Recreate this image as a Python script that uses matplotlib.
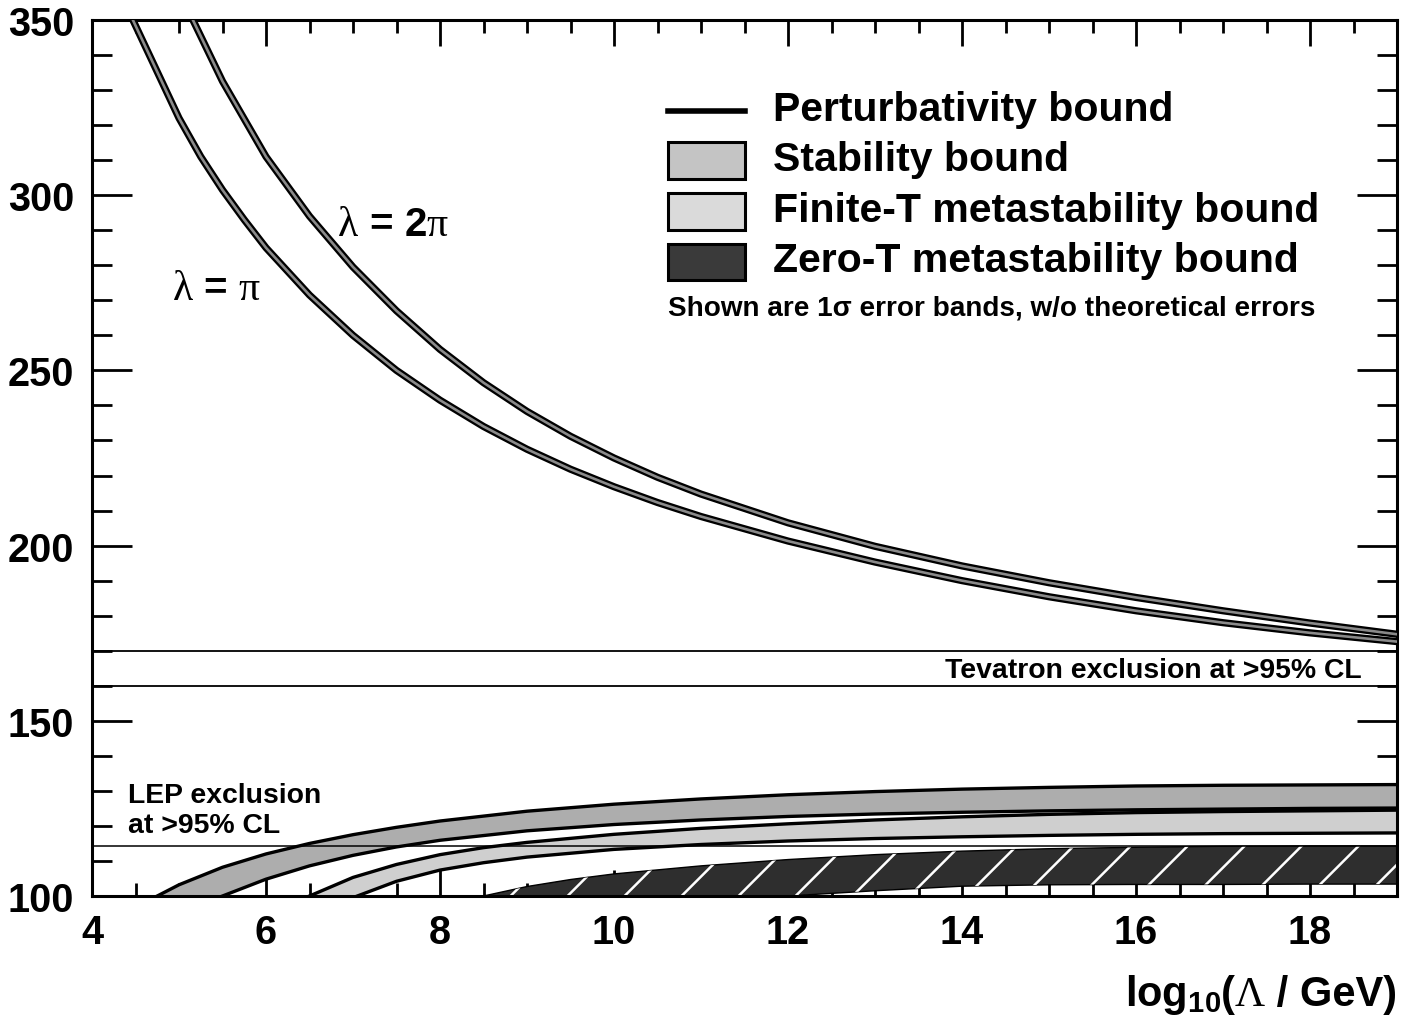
import numpy as np
import matplotlib
matplotlib.use('Agg')
import matplotlib.pyplot as plt
import matplotlib.patheffects as pe
from matplotlib.ticker import MultipleLocator
from matplotlib.offsetbox import TextArea, HPacker, AnnotationBbox
from matplotlib.patches import Rectangle
from matplotlib.lines import Line2D

plt.rcParams['font.family'] = ['Liberation Sans', 'DejaVu Sans']
plt.rcParams['mathtext.fontset'] = 'custom'
plt.rcParams['mathtext.rm'] = 'Liberation Sans:bold'
plt.rcParams['mathtext.bf'] = 'Liberation Sans:bold'
plt.rcParams['mathtext.it'] = 'Liberation Sans:bold'

# ---------------- data ----------------
x_ticks = [4, 6, 8, 10, 12, 14, 16, 18]
x_ticklabels = ['4', '6', '8', '10', '12', '14', '16', '18']
y_ticks = [100, 150, 200, 250, 300, 350]
y_ticklabels = ['100', '150', '200', '250', '300', '350']

# perturbativity bounds (Higgs mass, GeV) vs log10(Lambda/GeV)
pi_x = [4.47, 5.0, 5.25, 5.5, 5.75, 6.0, 6.5, 7.0, 7.5, 8.0, 8.5, 9.0, 9.5, 10.0,
        10.5, 11.0, 12.0, 13.0, 14.0, 15.0, 16.0, 17.0, 18.0, 19.0]
pi_m = [350, 322, 311, 301.5, 293, 285, 271.5, 260, 250, 241.5, 234, 227.5, 221.8, 216.8,
        212.3, 208.3, 201.3, 195.3, 190.0, 185.4, 181.4, 178.0, 175.1, 172.6]
twopi_x = [5.16, 5.5, 6.0, 6.5, 7.0, 7.5, 8.0, 8.5, 9.0, 9.5, 10.0, 10.5, 11.0,
           12.0, 13.0, 14.0, 15.0, 16.0, 17.0, 18.0, 19.0]
twopi_m = [350, 332.5, 311, 294, 279.5, 267, 256, 246.5, 238.3, 231.2, 225, 219.5, 214.7,
           206.5, 199.8, 194.2, 189.4, 185.2, 181.4, 177.9, 174.7]

# stability bound (1 sigma band)
stab_hi_x = [4.75, 5.0, 5.5, 6.0, 6.5, 7.0, 7.5, 8.0, 9.0, 10.0, 11.0, 12.0, 13.0, 14.0,
             15.0, 16.0, 17.0, 18.0, 19.0]
stab_hi = [100, 103.2, 108.2, 112.0, 115.0, 117.5, 119.6, 121.4, 124.2, 126.2, 127.7, 128.9,
           129.8, 130.5, 131.0, 131.4, 131.6, 131.7, 131.8]
stab_lo_x = [5.5, 6.0, 6.5, 7.0, 7.5, 8.0, 9.0, 10.0, 11.0, 12.0, 13.0, 14.0, 15.0, 16.0,
             17.0, 18.0, 19.0]
stab_lo = [100, 104.8, 108.6, 111.6, 114.0, 115.9, 118.6, 120.4, 121.7, 122.7, 123.4, 123.9,
           124.3, 124.6, 124.8, 125.0, 125.1]

# finite-T metastability bound
fin_hi_x = [6.5, 7.0, 7.5, 8.0, 8.5, 9.0, 10.0, 11.0, 12.0, 13.0, 14.0, 15.0, 16.0, 17.0, 18.0, 19.0]
fin_hi = [100, 105.3, 109.0, 111.8, 113.8, 115.3, 117.6, 119.3, 120.6, 121.7, 122.6, 123.3,
          123.8, 124.1, 124.3, 124.5]
fin_lo_x = [7.05, 7.5, 8.0, 8.5, 9.0, 10.0, 11.0, 12.0, 13.0, 14.0, 15.0, 16.0, 17.0, 18.0, 19.0]
fin_lo = [100, 104.2, 107.4, 109.5, 111.1, 113.3, 114.7, 115.7, 116.4, 116.9, 117.3, 117.6,
          117.8, 117.9, 118.0]

# zero-T metastability bound
zero_hi_x = [8.5, 9.0, 9.5, 10.0, 11.0, 12.0, 13.0, 14.0, 15.0, 16.0, 17.0, 18.0, 19.0]
zero_hi = [100, 102.7, 104.7, 106.3, 108.6, 110.4, 111.8, 112.8, 113.5, 113.9, 114.2, 114.3, 114.3]
zero_lo_x = [8.5, 12.0, 13.0, 14.0, 15.0, 16.0, 17.0, 18.0, 19.0]
zero_lo = [100, 100, 101.5, 102.8, 103.2, 103.3, 103.3, 103.4, 103.4]

tevatron_lo, tevatron_hi = 160, 170
lep_limit = 114.4

# ---------------- figure ----------------
W, H = 1413, 1020
fig = plt.figure(figsize=(W / 100, H / 100), dpi=100)
L, R, T, B = 92, 1397, 21, 897
ax = fig.add_axes([L / W, 1 - B / H, (R - L) / W, (B - T) / H])
ax.set_xlim(4, 19)
ax.set_ylim(100, 350)


def afx(px):
    return (px - L) / (R - L)


def afy(py):
    return (B - py) / (B - T)


edge_lw = 2.4
stab_col = '#adadad'
fin_col = '#cfcfcf'
zero_col = '#2e2e2e'

# bands
ax.fill(np.concatenate([stab_hi_x, stab_lo_x[::-1]]), np.concatenate([stab_hi, stab_lo[::-1]]),
        facecolor=stab_col, edgecolor='none', zorder=2)
ax.plot(stab_hi_x, stab_hi, color='black', lw=edge_lw, zorder=3)
ax.plot(stab_lo_x, stab_lo, color='black', lw=edge_lw, zorder=3)

ax.fill(np.concatenate([fin_hi_x, fin_lo_x[::-1]]), np.concatenate([fin_hi, fin_lo[::-1]]),
        facecolor=fin_col, edgecolor='none', zorder=2)
ax.plot(fin_hi_x, fin_hi, color='black', lw=edge_lw, zorder=3)
ax.plot(fin_lo_x, fin_lo, color='black', lw=edge_lw, zorder=3)

zpoly = ax.fill(np.concatenate([zero_hi_x, zero_lo_x[::-1]]), np.concatenate([zero_hi, zero_lo[::-1]]),
                facecolor=zero_col, edgecolor='black', lw=1.0, zorder=2)[0]

# white diagonal hatch in zero-T band (45 deg on screen)
sx = (R - L) / 15.0
sy = (B - T) / 250.0
slope = sx / sy
step = 57 / sx
x0s = np.arange(15.5 - 20 * step, 19.5, step)
for x0 in x0s:
    ln = Line2D([x0 - 5 / slope, x0 + 20 / slope], [103.4 - 5, 103.4 + 20], color='white', lw=1.8, zorder=2.5)
    ax.add_line(ln)
    ln.set_clip_path(zpoly)

# exclusion lines
ax.axhline(tevatron_hi, color='black', lw=1.3, zorder=4)
ax.axhline(tevatron_lo, color='black', lw=1.3, zorder=4)
ax.axhline(lep_limit, color='black', lw=1.1, zorder=4)

# perturbativity curves
for xs, ys in [(pi_x, pi_m), (twopi_x, twopi_m)]:
    ax.plot(xs, ys, color='#8a8a8a', lw=1.9, zorder=5, solid_joinstyle='round',
            path_effects=[pe.Stroke(linewidth=5.2, foreground='black'), pe.Normal()])

# axes styling
for sp in ax.spines.values():
    sp.set_linewidth(2.2)
ax.set_xticks(x_ticks)
ax.set_xticklabels(x_ticklabels)
ax.set_yticks(y_ticks)
ax.set_yticklabels(y_ticklabels)
ax.xaxis.set_minor_locator(MultipleLocator(0.5))
ax.yaxis.set_minor_locator(MultipleLocator(10))
ax.tick_params(which='both', direction='in', top=True, right=True, width=2.0)
ax.tick_params(axis='x', which='major', length=19, pad=12, labelsize=28.5)
ax.tick_params(axis='x', which='minor', length=9.5)
ax.tick_params(axis='y', which='major', length=28.5, pad=13, labelsize=28.5)
ax.tick_params(axis='y', which='minor', length=14.4)
for lab in ax.get_xticklabels() + ax.get_yticklabels():
    lab.set_fontweight('bold')

# texts in plot
ax.text(afx(1362), afy(671), 'Tevatron exclusion at >95% CL', transform=ax.transAxes,
        ha='right', va='center', fontsize=20.4, fontweight='bold', zorder=6)
ax.text(afx(128), afy(796), 'LEP exclusion', transform=ax.transAxes,
        ha='left', va='center', fontsize=20.4, fontweight='bold', zorder=6)
ax.text(afx(128), afy(826), 'at >95% CL', transform=ax.transAxes,
        ha='left', va='center', fontsize=20.4, fontweight='bold', zorder=6)


def lam_label(parts, xy):
    areas = []
    for s, kind in parts:
        if kind == 'serif':
            tp = dict(family='Liberation Serif', size=30)
        else:
            tp = dict(family='Liberation Sans', size=29, weight='bold')
        areas.append(TextArea(s, textprops=tp))
    pk = HPacker(children=areas, align='baseline', pad=0, sep=0)
    ab = AnnotationBbox(pk, xy, xycoords='axes fraction', box_alignment=(0.5, 0.5),
                        frameon=False, pad=0)
    ax.add_artist(ab)


lam_label([('λ', 'serif'), (' = ', 'sans'), ('π', 'serif')], (afx(216), afy(290)))
lam_label([('λ', 'serif'), (' = ', 'sans'), ('2', 'sans'), ('π', 'serif')], (afx(393), afy(225)))

# legend
leg_x0, leg_x1 = 668, 745
ax.add_line(Line2D([afx(leg_x0), afx(leg_x1)], [afy(112), afy(112)], transform=ax.transAxes,
                   color='black', lw=4.0, zorder=6))
for (y0, y1), col in [((143, 180), '#c4c4c4'), ((194, 231), '#dadada'), ((245, 281), '#3a3a3a')]:
    ax.add_patch(Rectangle((afx(leg_x0), afy(y1)), afx(leg_x1) - afx(leg_x0), afy(y0) - afy(y1),
                           transform=ax.transAxes, facecolor=col, edgecolor='black', lw=2.2, zorder=6))
leg_texts = ['Perturbativity bound', 'Stability bound', 'Finite-T metastability bound',
             'Zero-T metastability bound']
for t, yc in zip(leg_texts, [110, 160, 211, 261]):
    ax.text(afx(773), afy(yc), t, transform=ax.transAxes, ha='left', va='center',
            fontsize=29.5, fontweight='bold', zorder=6)
ax.text(afx(668), afy(309), 'Shown are 1σ error bands, w/o theoretical errors', transform=ax.transAxes,
        ha='left', va='center', fontsize=20.1, fontweight='bold', zorder=6)

# x axis label
xl = [TextArea(r'$\mathrm{log}_{\mathrm{10}}$', textprops=dict(size=30)),
      TextArea('(', textprops=dict(family='Liberation Sans', size=30, weight='bold')),
      TextArea('Λ', textprops=dict(family='Liberation Serif', size=30)),
      TextArea(' / GeV)', textprops=dict(family='Liberation Sans', size=30, weight='bold'))]
xpk = HPacker(children=xl, align='baseline', pad=0, sep=0)
fig.add_artist(AnnotationBbox(xpk, (1397 / W, 3 / H), xycoords='figure fraction',
                              box_alignment=(1, 0), frameon=False, pad=0))

fig.savefig('out.png', dpi=100)
